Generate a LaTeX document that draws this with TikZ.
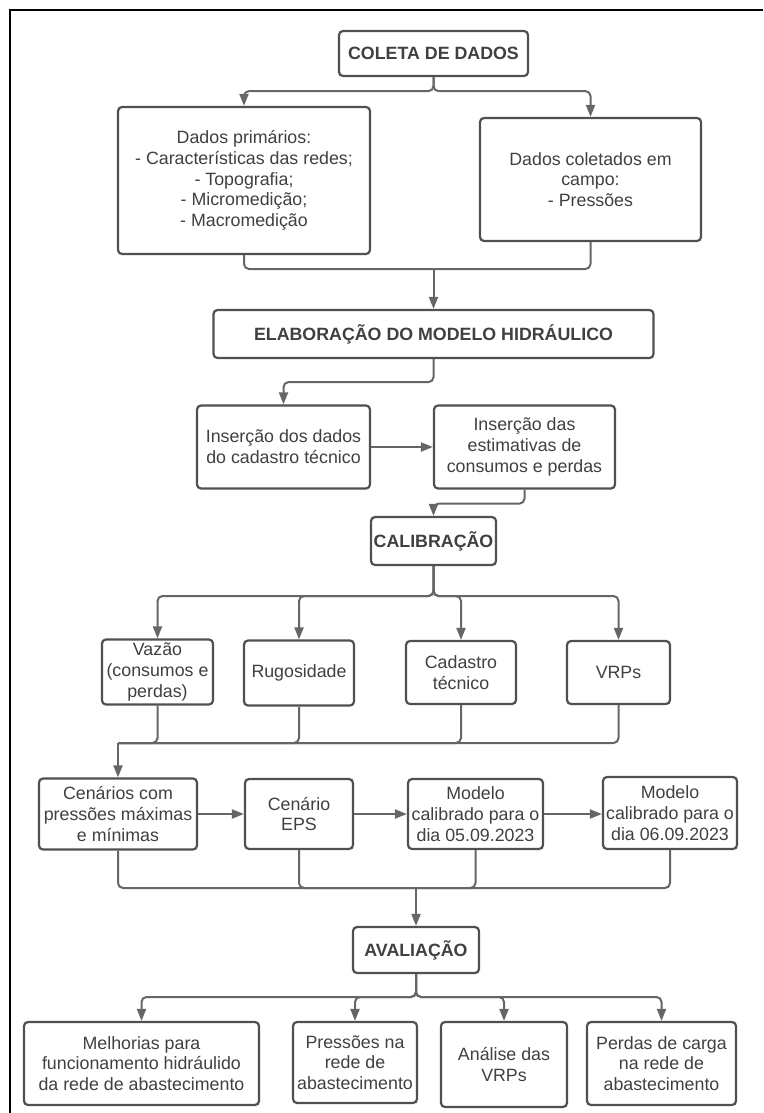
\documentclass[tikz,border=0pt]{standalone}
\usepackage{fontspec}
\setmainfont{Liberation Sans}
\usetikzlibrary{arrows.meta,calc}

\definecolor{boxline}{HTML}{505050}
\definecolor{linkline}{HTML}{666666}
\definecolor{txt}{HTML}{404040}

\begin{document}
\begin{tikzpicture}[x=1pt, y=-1pt, >={Triangle[length=12pt,width=9pt]},
  box/.style={draw=boxline, line width=2.2pt, rounded corners=4pt, fill=white,
    align=center, inner sep=0pt, text=txt, font=\fontsize{17.8}{20.8}\selectfont},
  title/.style={box, font=\fontsize{17.8}{20.8}\selectfont\bfseries},
  link/.style={draw=linkline, line width=2pt, rounded corners=5pt},
  flow/.style={link, ->}]
  \useasboundingbox (0,0) rectangle (763,1113);

  % 0. Frame
  \draw[black, line width=2pt] (10,1113) -- (10,9.7) -- (763,9.7);

  % 1. Boxes (top to bottom)
  \node[title, minimum width=189pt, minimum height=45pt] (coleta) at (433.5,53.5) {COLETA DE DADOS};
  \node[box, minimum width=252pt, minimum height=147pt] (prim) at (244,180.5)
    {Dados primários:\\- Características das redes;\\- Topografia;\\- Micromedição;\\- Macromedição};
  \node[box, minimum width=221pt, minimum height=123pt] (campo) at (590.5,179.5)
    {Dados coletados em\\campo:\\- Pressões};
  \node[title, minimum width=440pt, minimum height=48pt] (elab) at (433.5,334) {ELABORAÇÃO DO MODELO HIDRÁULICO};
  \node[box, minimum width=173pt, minimum height=83pt] (insdados) at (283.5,447)
    {Inserção dos dados\\do cadastro técnico};
  \node[box, minimum width=181pt, minimum height=83pt] (insest) at (524.5,447)
    {Inserção das\\estimativas de\\consumos e perdas};
  \node[title, minimum width=125pt, minimum height=48pt] (calib) at (433.5,541) {CALIBRAÇÃO};

  % calibração
  \node[box, minimum width=111pt, minimum height=65pt] (vazao) at (157.5,672) {Vazão\\(consumos e\\perdas)};
  \node[box, minimum width=110pt, minimum height=65pt] (rugos) at (299,673) {Rugosidade};
  \node[box, minimum width=110pt, minimum height=63pt] (cadastro) at (461,672.5) {Cadastro\\técnico};
  \node[box, minimum width=103pt, minimum height=63pt] (vrps) at (618.5,672.5) {VRPs};

  % cenários
  \node[box, minimum width=158pt, minimum height=71pt] (cenarios) at (118,814)
    {Cenários com\\pressões máximas\\e mínimas};
  \node[box, minimum width=108pt, minimum height=70pt] (eps) at (299,814) {Cenário\\EPS};
  \node[box, minimum width=135pt, minimum height=70pt] (mod05) at (475.5,814)
    {Modelo\\calibrado para o\\dia 05.09.2023};
  \node[box, minimum width=134pt, minimum height=72pt] (mod06) at (670,813)
    {Modelo\\calibrado para o\\dia 06.09.2023};

  % avaliação
  \node[title, minimum width=126pt, minimum height=46pt] (aval) at (416,950) {AVALIAÇÃO};
  \node[box, minimum width=235pt, minimum height=83pt] (melh) at (141.5,1063.5)
    {Melhorias para\\funcionamento hidráulido\\da rede de abastecimento};
  \node[box, minimum width=124pt, minimum height=81pt] (press) at (355,1062.5)
    {Pressões na\\rede de\\abastecimento};
  \node[box, minimum width=126pt, minimum height=85pt] (anal) at (504,1064.5)
    {Análise das\\VRPs};
  \node[box, minimum width=149pt, minimum height=83pt] (perd) at (661.5,1063.5)
    {Perdas de carga\\na rede de\\abastecimento};

  % 2. Connectors
  \coordinate (j1) at (433.5,269);
  \draw[flow] (coleta.south) -- ++(0,14) -| (prim.north);
  \draw[flow] (coleta.south) -- ++(0,14) -| (campo.north);
  \draw[link] (prim.south) |- (j1);
  \draw[link] (campo.south) |- (j1);
  \draw[flow] (j1) -- (elab.north);

  \draw[flow] (elab.south) -- ++(0,23) -| (insdados.north);
  \draw[flow] (insdados.east) -- (insdados.east -| insest.west);
  \draw[flow] (insest.south) -- ++(0,14) -| (calib.north);

  \coordinate (j2) at (433.5,596);
  \foreach \n in {vazao,rugos,cadastro,vrps}
    \draw[flow] (calib.south) -- (j2) -| (\n.north);

  \coordinate (j3) at (118,743);
  \foreach \n in {vazao,rugos,cadastro,vrps}
    \draw[link] (\n.south) |- (j3);
  \draw[flow] (j3) -- (cenarios.north);

  \draw[flow] (cenarios.east) -- (cenarios.east -| eps.west);
  \draw[flow] (eps.east) -- (eps.east -| mod05.west);
  \draw[flow] (mod05.east) -- (mod05.east -| mod06.west);

  \coordinate (j4) at (416,888);
  \foreach \n in {cenarios,eps,mod05,mod06}
    \draw[link] (\n.south) |- (j4);
  \draw[flow] (j4) -- (aval.north);

  \coordinate (j5) at (416,997);
  \foreach \n in {melh,press,anal,perd}
    \draw[flow] (aval.south) -- (j5) -| (\n.north);
\end{tikzpicture}
\end{document}
